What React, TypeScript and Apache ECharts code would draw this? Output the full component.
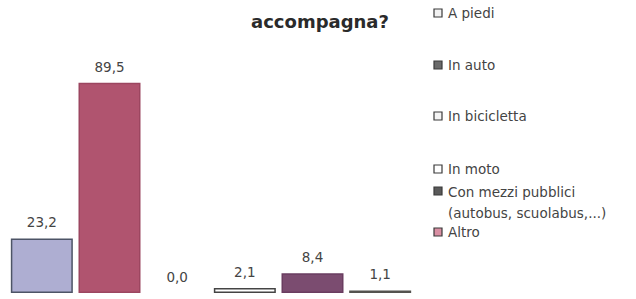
import React, { useEffect, useRef } from "react";
import * as echarts from "echarts";

const categories = [
  "A piedi",
  "In auto",
  "In bicicletta",
  "In moto",
  "Con mezzi pubblici\n(autobus, scuolabus,...)",
  "Altro",
];
const values = [23.2, 89.5, 0.0, 2.1, 8.4, 1.1];
const barColors = ["#aeaed2", "#b0546f", "#ffffff", "#ffffff", "#7b4c70", "#5f5d58"];
const barBorders = ["#4d5466", "#9c4660", "#444444", "#444444", "#6a3d60", "#55534f"];
const legendFills = ["#f2f2f2", "#6a6a6a", "#f4f4f4", "#ffffff", "#5a5a5a", "#d98fa3"];
const legendY = [13, 65, 116, 169, 191, 232];
const titleText = "accompagna?";

const FONT = "DejaVu Sans";

export default function App() {
  const ref = useRef<HTMLDivElement>(null);
  useEffect(() => {
    if (!ref.current) return;
    const chart = echarts.init(ref.current, null, { renderer: "svg" });
    const legendGraphics: any[] = [];
    categories.forEach((c, i) => {
      legendGraphics.push({
        type: "rect",
        shape: { x: 434, y: legendY[i] - 4, width: 8, height: 8 },
        style: { fill: legendFills[i], stroke: "#3a3a3a", lineWidth: 1.2 },
      });
      legendGraphics.push({
        type: "text",
        x: 448,
        y: legendY[i],
        style: {
          text: c,
          font: `13.5px "${FONT}"`,
          fill: "#444",
          verticalAlign: c.includes("\n") ? "top" : "middle",
          lineHeight: 21,
        },
        ...(c.includes("\n") ? { y: legendY[i] - 10 } : {}),
      });
    });
    chart.setOption({
      animation: false,
      backgroundColor: "#ffffff",
      grid: { left: 8, right: 222, top: 58, bottom: 6, containLabel: false },
      xAxis: {
        type: "category",
        data: categories,
        axisLine: { show: false },
        axisTick: { show: false },
        axisLabel: { show: false },
      },
      yAxis: {
        type: "value",
        min: 0,
        max: 100,
        show: false,
        splitLine: { show: false },
      },
      series: [
        {
          type: "bar",
          barWidth: 62,
          data: values.map((v, i) => ({
            value: v,
            itemStyle: { color: barColors[i], borderColor: barBorders[i], borderWidth: v > 0 ? 1.5 : 0 },
          })),
          label: {
            show: true,
            position: "top",
            distance: 9,
            formatter: (p: any) => p.value.toFixed(1).replace(".", ","),
            fontFamily: FONT,
            fontSize: 13.5,
            color: "#444",
          },
        },
      ],
      graphic: [
        {
          type: "text",
          x: 320,
          y: 21,
          style: {
            text: titleText,
            font: `bold 18px "${FONT}"`,
            fill: "#2a2a2a",
            align: "center",
            verticalAlign: "middle",
          },
        },
        ...legendGraphics,
      ],
    });
    return () => chart.dispose();
  }, []);
  return (
    <div
      ref={ref}
      style={{ position: "fixed", left: 0, top: 0, width: 636, height: 299, background: "#fff" }}
    />
  );
}
